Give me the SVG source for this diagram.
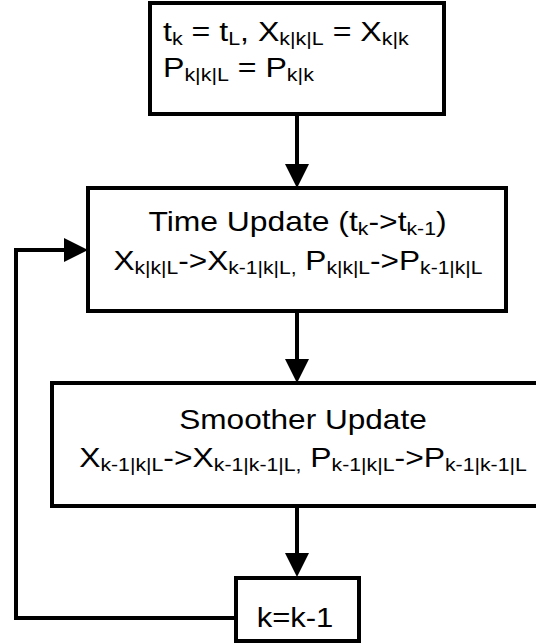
<svg xmlns="http://www.w3.org/2000/svg" width="536" height="644" viewBox="0 0 536 644">
<style>
.box{fill:#fff;stroke:#000;stroke-width:4}
.con{fill:none;stroke:#000;stroke-width:4}
.t{font-family:"Liberation Sans",Arial,sans-serif;font-size:27px;fill:#000}
.c{text-anchor:middle}
.s{font-size:18px}
</style>
<defs>
<marker id="ah" viewBox="0 0 24 24" markerUnits="userSpaceOnUse" markerWidth="24" markerHeight="24" refX="12" refY="12" orient="auto">
<path d="M0,0 L24,12 L0,24 z" fill="#000"/>
</marker>
</defs>
<g id="connectors">
<path class="con" d="M297,114 V176" marker-end="url(#ah)"/>
<path class="con" d="M297,311 V371" marker-end="url(#ah)"/>
<path class="con" d="M297,506 V565" marker-end="url(#ah)"/>
<path class="con" d="M236,618 H16 V250 H76" marker-end="url(#ah)"/>
</g>
<g id="init">
<rect class="box" x="150" y="3" width="294" height="111"/>
<text class="t" transform="translate(163,41) scale(1.19,1)">t<tspan class="s" dy="4">k</tspan><tspan dy="-4"> = t</tspan><tspan class="s" dy="4">L</tspan><tspan dy="-4">, X</tspan><tspan class="s" dy="4">k|k|L</tspan><tspan dy="-4"> = X</tspan><tspan class="s" dy="4">k|k</tspan></text>
<text class="t" transform="translate(163,77) scale(1.19,1)">P<tspan class="s" dy="4">k|k|L</tspan><tspan dy="-4"> = P</tspan><tspan class="s" dy="4">k|k</tspan></text>
</g>
<g id="time-update">
<rect class="box" x="88" y="188" width="418" height="123"/>
<text class="t c" transform="translate(297.5,231) scale(1.18,1)">Time Update (t<tspan class="s" dy="4">k</tspan><tspan dy="-4">-&gt;t</tspan><tspan class="s" dy="4">k-1</tspan><tspan dy="-4">)</tspan></text>
<text class="t c" transform="translate(298,270) scale(1.17,1)">X<tspan class="s" dy="4">k|k|L</tspan><tspan dy="-4">-&gt;X</tspan><tspan class="s" dy="4">k-1|k|L,</tspan><tspan dy="-4"> P</tspan><tspan class="s" dy="4">k|k|L</tspan><tspan dy="-4">-&gt;P</tspan><tspan class="s" dy="4">k-1|k|L</tspan></text>
</g>
<g id="smoother-update">
<rect class="box" x="52" y="383" width="502" height="123"/>
<text class="t c" transform="translate(303,429) scale(1.17,1)">Smoother Update</text>
<text class="t c" transform="translate(303,467) scale(1.18,1)">X<tspan class="s" dy="4">k-1|k|L</tspan><tspan dy="-4">-&gt;X</tspan><tspan class="s" dy="4">k-1|k-1|L,</tspan><tspan dy="-4"> P</tspan><tspan class="s" dy="4">k-1|k|L</tspan><tspan dy="-4">-&gt;P</tspan><tspan class="s" dy="4">k-1|k-1|L</tspan></text>
</g>
<g id="decrement">
<rect class="box" x="236" y="578" width="123" height="63"/>
<text class="t c" transform="translate(295,627) scale(1.15,1)">k=k-1</text>
</g>
</svg>
